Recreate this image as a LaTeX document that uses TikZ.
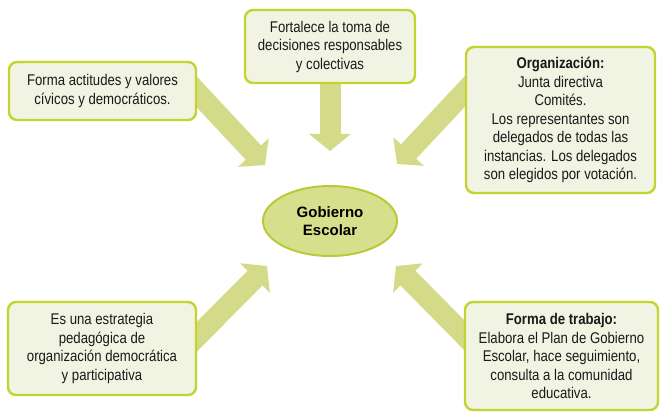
\documentclass[tikz,border=0pt]{standalone}
\usepackage{fontspec}
\setmainfont{Liberation Sans}[FakeStretch=0.85]
\newfontfamily\ellfont{Liberation Sans}
\usetikzlibrary{arrows.meta,backgrounds,shapes.geometric}
\definecolor{boxborder}{HTML}{C3D32F}
\definecolor{boxfill}{HTML}{F1F4E3}
\definecolor{arrowc}{HTML}{D3DB88}
\definecolor{ellfill}{HTML}{D6DF8B}
\definecolor{ellborder}{HTML}{B8CA36}
\definecolor{txt}{HTML}{1A1A1A}
\tikzset{
  infobox/.style={draw=boxborder, fill=boxfill, line width=2.4pt, rounded corners=8pt,
    inner sep=0pt, align=center, text=txt, font=\fontsize{15.5}{18.5}\selectfont},
  bigarrow/.style={draw=arrowc, line width=21pt, -{Triangle[width=41pt,length=17pt]}},
}
\begin{document}
\begin{tikzpicture}[x=1pt,y=-1pt]
\useasboundingbox (0,0) rectangle (668,419);
\node[infobox, minimum width=170pt, minimum height=73pt] (top) at (330,46.5)
  {Fortalece la toma de\\decisiones responsables\\y colectivas};
\node[infobox, minimum width=187pt, minimum height=58pt] (tl) at (102.5,91)
  {Forma actitudes y valores\\cívicos y democráticos.};
\node[infobox, minimum width=189pt, minimum height=146pt] (tr) at (560.5,120)
  {\textbf{Organización:}\\Junta directiva\\Comités.\\Los representantes son\\delegados de todas las\\instancias. Los delegados\\son elegidos por votación.};
\node[infobox, minimum width=188pt, minimum height=93pt] (bl) at (102,348.5)
  {Es una estrategia\\pedagógica de\\organización democrática\\y participativa};
\node[infobox, minimum width=193pt, minimum height=108pt] (br) at (561.5,356)
  {\textbf{Forma de trabajo:}\\Elabora el Plan de Gobierno\\Escolar, hace seguimiento,\\consulta a la comunidad\\educativa.};
\node[ellipse, draw=ellborder, fill=ellfill, line width=2pt, minimum width=134pt, minimum height=70pt,
  align=center, text=black, font=\ellfont\fontsize{15}{18}\selectfont\bfseries] (ge) at (330,221)
  {Gobierno\\Escolar};
\coordinate (tipT) at (330,151);
\coordinate (tipTL) at (265,165);
\coordinate (tipTR) at (397,164);
\coordinate (tipBL) at (267,266);
\coordinate (tipBR) at (396,266);
\begin{pgfonlayer}{background}
  \draw[bigarrow] ([yshift=10pt]top.south) -- (tipT);
  \draw[bigarrow] ([shift={(-20pt,20pt)}]tl.east) -- (tipTL);
  \draw[bigarrow] ([shift={(20pt,50pt)}]tr.west) -- (tipTR);
  \draw[bigarrow] ([shift={(-20pt,-8pt)}]bl.east) -- (tipBL);
  \draw[bigarrow] ([shift={(21pt,0pt)}]br.west) -- (tipBR);
\end{pgfonlayer}
\end{tikzpicture}
\end{document}
